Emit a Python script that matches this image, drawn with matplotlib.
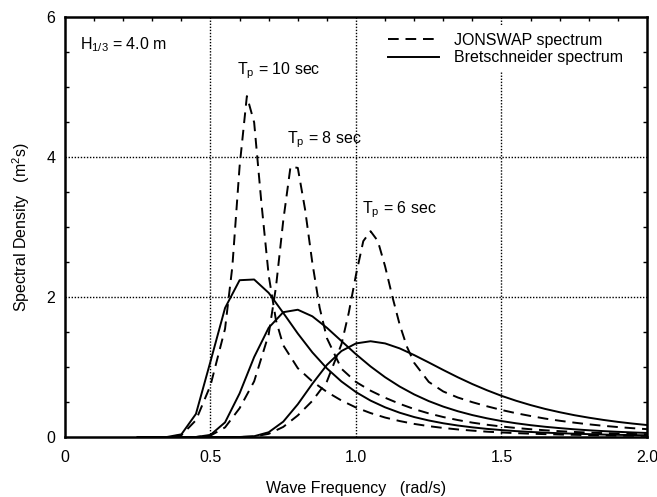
import matplotlib
matplotlib.use("Agg")
import matplotlib.pyplot as plt
from matplotlib.ticker import MultipleLocator

plt.rcParams['font.family'] = ['Liberation Sans', 'DejaVu Sans']
plt.rcParams['mathtext.fontset'] = 'custom'
plt.rcParams['mathtext.rm'] = 'Liberation Sans'
plt.rcParams['mathtext.it'] = 'Liberation Sans'

# ---- data ----
freq_bret = [0.25, 0.30, 0.35, 0.40, 0.45, 0.50, 0.55, 0.60, 0.65, 0.70, 0.75, 0.80,
             0.85, 0.90, 0.95, 1.00, 1.05, 1.10, 1.15, 1.20, 1.25, 1.30, 1.35, 1.40,
             1.45, 1.50, 1.55, 1.60, 1.65, 1.70, 1.75, 1.80, 1.85, 1.90, 1.95, 2.00]
bret_tp10 = [0, 0, 0, 0.038, 0.33, 1.08, 1.843, 2.24, 2.25, 2.059, 1.773, 1.478,
             1.209, 0.980, 0.793, 0.641, 0.520, 0.424, 0.347, 0.285, 0.236, 0.196, 0.164, 0.138,
             0.116, 0.099, 0.084, 0.072, 0.062, 0.054, 0.047, 0.041, 0.035, 0.031, 0.027, 0.024]
bret_tp8 = [0, 0, 0, 0, 0, 0.030, 0.209, 0.623, 1.142, 1.561, 1.783, 1.818,
            1.724, 1.560, 1.371, 1.182, 1.008, 0.854, 0.721, 0.608, 0.513, 0.434, 0.368, 0.313,
            0.267, 0.228, 0.196, 0.169, 0.146, 0.127, 0.110, 0.096, 0.084, 0.074, 0.065, 0.058]
bret_tp6 = [0, 0, 0, 0, 0, 0, 0, 0, 0.011, 0.068, 0.219, 0.468,
            0.760, 1.030, 1.228, 1.337, 1.368, 1.337, 1.266, 1.170, 1.065, 0.957, 0.853, 0.756,
            0.668, 0.588, 0.518, 0.456, 0.401, 0.354, 0.312, 0.276, 0.244, 0.216, 0.192, 0.171]

freq_jon10 = [0.25, 0.30, 0.35, 0.40, 0.45, 0.50, 0.55, 0.575, 0.60, 0.625, 0.65, 0.675,
              0.70, 0.725, 0.75, 0.80, 0.85, 0.90, 0.95, 1.00, 1.05, 1.10, 1.15, 1.20,
              1.25, 1.30, 1.35, 1.40, 1.45, 1.50, 1.55, 1.60, 1.65, 1.70, 1.75, 1.80,
              1.85, 1.90, 1.95, 2.00]
jon_tp10 = [0, 0, 0, 0.025, 0.240, 0.738, 1.546, 2.431, 3.866, 4.87, 4.494, 3.341,
            2.308, 1.666, 1.310, 0.983, 0.794, 0.644, 0.521, 0.421, 0.342, 0.278, 0.228, 0.187,
            0.155, 0.129, 0.108, 0.091, 0.076, 0.065, 0.055, 0.047, 0.041, 0.035, 0.031, 0.027,
            0.023, 0.020, 0.018, 0.016]

freq_jon8 = [0.25, 0.30, 0.35, 0.40, 0.45, 0.50, 0.55, 0.60, 0.65, 0.70, 0.725, 0.75,
             0.775, 0.80, 0.825, 0.85, 0.875, 0.90, 0.95, 1.00, 1.05, 1.10, 1.15, 1.20,
             1.25, 1.30, 1.35, 1.40, 1.45, 1.50, 1.55, 1.60, 1.65, 1.70, 1.75, 1.80,
             1.85, 1.90, 1.95, 2.00]
jon_tp8 = [0, 0, 0, 0, 0, 0.020, 0.137, 0.411, 0.795, 1.467, 2.143, 3.091,
           3.863, 3.844, 3.251, 2.487, 1.848, 1.412, 0.975, 0.786, 0.662, 0.561, 0.474, 0.399,
           0.337, 0.285, 0.242, 0.205, 0.175, 0.150, 0.129, 0.111, 0.096, 0.083, 0.072, 0.063,
           0.055, 0.049, 0.043, 0.038]

freq_jon6 = [0.25, 0.30, 0.35, 0.40, 0.45, 0.50, 0.55, 0.60, 0.65, 0.70, 0.75, 0.80,
             0.85, 0.90, 0.95, 0.975, 1.00, 1.025, 1.05, 1.075, 1.10, 1.125, 1.15, 1.175,
             1.20, 1.25, 1.30, 1.35, 1.40, 1.45, 1.50, 1.55, 1.60, 1.65, 1.70, 1.75,
             1.80, 1.85, 1.90, 1.95, 2.00]
jon_tp6 = [0, 0, 0, 0, 0, 0, 0, 0, 0.007, 0.045, 0.144, 0.308,
           0.516, 0.793, 1.325, 1.772, 2.318, 2.798, 2.94, 2.800, 2.438, 2.005, 1.607, 1.290,
           1.059, 0.787, 0.650, 0.564, 0.497, 0.439, 0.386, 0.340, 0.300, 0.263, 0.232, 0.205,
           0.181, 0.160, 0.142, 0.126, 0.112]

x_ticks = [0, 0.5, 1.0, 1.5, 2.0]
x_labels = ["0", "0.5", "1.0", "1.5", "2.0"]
y_ticks = [0, 2, 4, 6]
y_labels = ["0", "2", "4", "6"]

FS = 11.5

# ---- figure ----
fig = plt.figure(figsize=(6.57, 4.97), dpi=100)
ax = fig.add_axes([65 / 657, 60 / 497, 582 / 657, 420 / 497])

lw = 1.4
dash = (5.5, 3.5)
ax.plot(freq_jon10, jon_tp10, color='black', lw=lw, dashes=dash, label='JONSWAP spectrum')
ax.plot(freq_jon8, jon_tp8, color='black', lw=lw, dashes=dash)
ax.plot(freq_jon6, jon_tp6, color='black', lw=lw, dashes=dash)
ax.plot(freq_bret, bret_tp10, color='black', lw=lw, label='Bretschneider spectrum')
ax.plot(freq_bret, bret_tp8, color='black', lw=lw)
ax.plot(freq_bret, bret_tp6, color='black', lw=lw)

ax.set_xlim(0, 2.0)
ax.set_ylim(0, 6)

ax.set_xticks(x_ticks)
ax.set_xticklabels(x_labels)
ax.set_yticks(y_ticks)
ax.set_yticklabels(y_labels)
ax.tick_params(axis='both', which='major', length=0, labelsize=FS, colors='black')
ax.tick_params(axis='x', which='major', pad=9)
ax.tick_params(axis='y', which='major', pad=7)
ax.yaxis.set_minor_locator(MultipleLocator(0.5))
ax.xaxis.set_minor_locator(MultipleLocator(0.1))
ax.tick_params(axis='y', which='minor', direction='in', length=3, width=1, left=True, right=True)
ax.tick_params(axis='x', which='minor', direction='in', length=3, width=1, top=True, bottom=False)

for s in ax.spines.values():
    s.set_linewidth(1.8)

for gx in [0.5, 1.0, 1.5]:
    ax.axvline(gx, color='black', lw=1.0, linestyle=(0, (1, 1.2)), zorder=0.5)
for gy in [2, 4]:
    ax.axhline(gy, color='black', lw=1.0, linestyle=(0, (1, 1.2)), zorder=0.5)

ax.set_xlabel('Wave Frequency   (rad/s)', fontsize=FS, labelpad=12)
ax.set_ylabel(r'Spectral Density   (m$^2$s)', fontsize=FS, labelpad=10)

ax.text(0.05, 5.6, r'H$_{1/3}$ = 4.0 m', fontsize=FS, va='center')
ax.text(0.591, 5.24, r'T$_\mathrm{p}$ = 10 sec', fontsize=FS, va='center')
ax.text(0.763, 4.24, r'T$_\mathrm{p}$ = 8 sec', fontsize=FS, va='center')
ax.text(1.02, 3.24, r'T$_\mathrm{p}$ = 6 sec', fontsize=FS, va='center')

leg = ax.legend(loc='upper right', bbox_to_anchor=(0.975, 0.985), frameon=True, fontsize=FS,
                handlelength=3.2, handletextpad=0.9, labelspacing=0.15, borderaxespad=0.2)
leg.get_frame().set_edgecolor('none')
leg.get_frame().set_facecolor('white')
leg.get_frame().set_alpha(1)
leg.set_zorder(5)

fig.savefig('out.png', dpi=100)
